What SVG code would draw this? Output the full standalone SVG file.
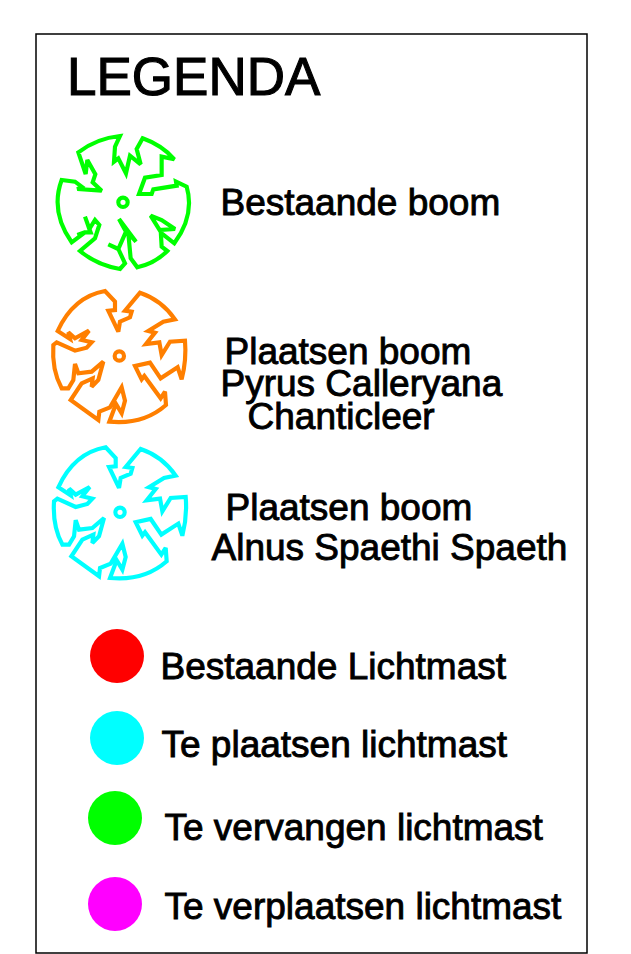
<svg xmlns="http://www.w3.org/2000/svg" width="631" height="954" viewBox="0 0 631 954">
<style>
.t{font-family:"Liberation Sans",Arial,sans-serif;font-size:37px;fill:#000;stroke:#000;stroke-width:.9px}
.h{font-size:53px;stroke-width:1.1px}
.o{fill:none;stroke-width:12.5;stroke-linejoin:miter;stroke-miterlimit:3}
</style>
<defs>
<g id="treeA"><path class="o" d="M240,33Q170,40 115,82L137,147L142,105L166,148L158,172L185,197L112,192L125,185L105,170L65,165Q30,260 95,352L135,322L112,330L135,322L152,322L135,275L148,312L165,285L178,300L165,340L120,378Q170,420 240,432L255,415L235,372L205,358L235,372L258,320L237,282L288,350L265,325L272,400L292,427Q345,415 382,378L365,365L362,315L405,312L365,285L332,272L365,325L403,355Q465,270 440,185L408,170L410,182L340,193L335,207L297,207L315,158L365,150L365,95L403,103Q365,60 308,40L290,72L302,118L270,92L258,145L235,100L222,110L225,65Z"/><circle class="o" cx="249" cy="232" r="14"/></g>
<g id="treeB"><path class="o" d="M195,33Q100,50 53,153L90,177L85,157L105,175L147,152L125,180L155,187L140,203L105,212L50,187L40,195Q35,270 65,325L85,325L100,300L105,252L115,280L155,275L190,245L175,300L155,320L158,295L125,310L92,360L175,420L178,395L210,382L245,322L255,362L245,400L228,372L208,425Q310,435 378,375L375,335L362,355L313,288L305,298L285,258L330,248L362,295L413,262L425,298Q440,240 435,182L390,185L365,225L358,187L318,192L345,158L325,153L370,125L405,118Q365,60 300,38L255,92L275,95L270,112L240,125L235,155L205,92L225,90L225,65Z"/><circle class="o" cx="238" cy="228" r="14"/></g>
</defs>
<rect id="frame" x="36" y="34" width="551" height="919" fill="#fff" stroke="#000" stroke-width="1.5"/>
<text id="title" class="t h" x="67" y="95">LEGENDA</text>
<g id="tree-existing" stroke="#00ff00">
<use href="#treeA" transform="translate(40,125) scale(.3333)"/>
<text class="t" x="220.5" y="215">Bestaande boom</text>
</g>
<g id="tree-pyrus" stroke="#ff7f00">
<use href="#treeB" transform="translate(40,280) scale(.3333)"/>
<text class="t" x="224.5" y="364">Plaatsen boom</text>
<text class="t" x="220.5" y="396">Pyrus Calleryana</text>
<text class="t" x="247.5" y="429">Chanticleer</text>
</g>
<g id="tree-alnus" stroke="#00ffff">
<use href="#treeB" transform="translate(40.7,436.3) scale(.3333)"/>
<text class="t" x="225.5" y="520">Plaatsen boom</text>
<text class="t" x="211.5" y="560">Alnus Spaethi Spaeth</text>
</g>
<g id="light-existing"><circle cx="117" cy="656" r="27" fill="#ff0000"/><text class="t" x="160.5" y="679">Bestaande Lichtmast</text></g>
<g id="light-new"><circle cx="117" cy="738" r="27" fill="#00ffff"/><text class="t" x="161.5" y="757">Te plaatsen lichtmast</text></g>
<g id="light-replace"><circle cx="115" cy="818" r="27" fill="#00ff00"/><text class="t" x="164.5" y="840">Te vervangen lichtmast</text></g>
<g id="light-move"><circle cx="115" cy="904" r="27" fill="#ff00ff"/><text class="t" x="164.5" y="919">Te verplaatsen lichtmast</text></g>
</svg>
